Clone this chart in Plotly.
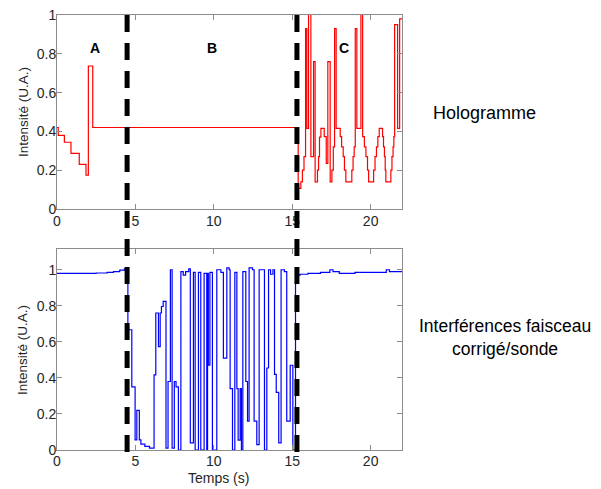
import plotly.graph_objects as go

# ---- data ----
holo_t = [0, 0.08, 0.47, 0.89, 1.42, 1.85, 2.0, 2.28, 15.38, 15.55, 15.65, 15.75,
          15.85, 15.93, 16.04, 16.19, 16.36, 16.46, 16.61, 16.68, 16.74, 16.83,
          17.04, 17.17, 17.27, 17.42, 17.53, 17.62, 17.7, 17.8, 18.06, 18.15,
          18.25, 18.33, 18.42, 18.8, 18.88, 18.95, 19.02, 19.12, 19.38, 19.49,
          19.6, 19.7, 19.8, 19.87, 20.19, 20.28, 20.37, 20.46, 20.55, 20.76,
          20.82, 20.88, 20.93, 20.97, 21.29, 21.36, 21.43, 21.48, 21.53, 21.72,
          21.85, 22.0]
holo_v = [0.42, 0.38, 0.344, 0.287, 0.23, 0.175, 0.737, 0.42, 0.106, 0.14, 0.2, 0.27,
          0.93, 0.416, 1.05, 0.27, 0.76, 0.14, 0.2, 0.27, 0.37, 0.416,
          0.373, 0.235, 0.76, 0.14, 0.2, 0.32, 0.93, 0.416, 0.373, 0.32,
          0.27, 0.2, 0.14, 0.2, 0.27, 0.32, 0.93, 0.416, 1.05, 0.373,
          0.32, 0.27, 0.2, 0.14, 0.2, 0.27, 0.32, 0.373, 0.416, 0.373,
          0.32, 0.27, 0.2, 0.14, 0.2, 0.27, 0.32, 0.373, 0.95, 0.416,
          0.98, 0.98]

interf_t = [0, 2.5, 3.2, 3.6, 4.0, 4.3, 4.52, 4.77, 4.98, 5.09, 5.25, 5.35, 5.6, 5.9,
            6.19, 6.3, 6.47, 6.58, 6.66, 6.77, 6.95, 7.08, 7.23, 7.34, 7.48, 7.59,
            7.74, 7.9, 8.05, 8.2, 8.4, 8.5, 8.7, 8.81, 9.02, 9.17, 9.38, 9.55, 9.6,
            9.65, 9.75, 9.91, 10.19, 10.45, 10.61, 10.83, 10.98, 11.04, 11.19, 11.34,
            11.47, 11.55, 11.68, 11.76, 11.85, 12.04, 12.15, 12.25, 12.47, 12.57,
            12.74, 12.89, 13.23, 13.38, 13.49, 13.62, 13.77, 13.87, 13.98, 14.14,
            14.29, 14.5, 14.65, 14.87, 15.04, 15.21, 15.35, 15.5, 16.0, 16.8, 17.4,
            17.6, 18.0, 19.0, 20.8, 21.0, 21.2, 22.0]
interf_v = [0.98, 0.982, 0.985, 0.99, 0.998, 1.005, 0.667, 0.35, 0.056, 0.22, 0.056, 0.033, 0.02, 0.01,
            0.417, 0.76, 0.574, 0.76, 0.796, 0.824, 0.01, 0.38, 1.0, 0.01, 0.38, 0.35,
            0.0, 0.99, 0.97, 0.99, 1.005, 0.04, 0.985, 0.0, 0.985, 0.0, 0.98, 0.0, 0.98,
            0.47, 0.985, 0.0, 1.0, 0.985, 0.51, 1.01, 1.0, 0.34, 0.0, 0.985,
            0.34, 0.055, 0.34, 0.0, 0.99, 0.38, 0.16, 1.01, 1.0, 0.16,
            0.03, 1.0, 0.0, 0.455, 1.0, 0.975, 1.0, 0.42, 0.32, 0.04,
            1.0, 0.99, 0.16, 0.47, 0.0, 0.954, 0.97, 0.975, 0.98, 0.985, 1.0,
            0.99, 0.98, 0.985, 0.985, 1.0, 0.99, 0.99]

x_ticks = [0, 5, 10, 15, 20]
y_ticks = [0, 0.2, 0.4, 0.6, 0.8, 1]
boundaries = [4.47, 15.3]
zone_labels = ["A", "B", "C"]
zone_x = [2.4, 9.9, 18.3]

# page body has an 8px margin; lay out in window pixels and convert
OFF = 8
W, H = 601 - OFF, 489 - OFF
FONT = "Liberation Sans, Arial, sans-serif"


def px(x):
    return (x - OFF) / W


def py(y):
    return (H - (y - OFF)) / H


fig = go.Figure()
fig.add_trace(go.Scatter(x=holo_t, y=holo_v, mode="lines", line=dict(color="#ff0000", width=1.2, shape="hv"),
                         xaxis="x", yaxis="y", showlegend=False, hoverinfo="skip"))
fig.add_trace(go.Scatter(x=interf_t, y=interf_v, mode="lines", line=dict(color="#0000ff", width=1.2, shape="hv"),
                         xaxis="x2", yaxis="y2", showlegend=False, hoverinfo="skip"))

xd = [px(57), px(402)]
top_dom = [py(209), py(15)]
bot_dom = [py(450), py(249)]

axis_common = dict(showline=True, linecolor="#8c8c8c", linewidth=1, mirror="ticks", automargin=False,
                   ticks="inside", ticklen=5, tickcolor="#8c8c8c", showgrid=False, zeroline=False,
                   ticklabeloverflow="allow",
                   tickfont=dict(family=FONT, size=14, color="#262626"))

fig.update_layout(
    template=None,
    width=W, height=H, margin=dict(l=0, r=0, t=0, b=0, autoexpand=False),
    paper_bgcolor="white", plot_bgcolor="white",
    xaxis=dict(domain=xd, anchor="y", range=[0, 22], tickvals=x_ticks, ticklabelstandoff=-1, **axis_common),
    yaxis=dict(domain=top_dom, anchor="x", range=[0, 1], tickvals=y_ticks, ticklabelstandoff=-3, **axis_common),
    xaxis2=dict(domain=xd, anchor="y2", range=[0, 22], tickvals=x_ticks, ticklabelstandoff=-2, **axis_common),
    yaxis2=dict(domain=bot_dom, anchor="x2", range=[0, 1.115], tickvals=y_ticks, ticklabelstandoff=-3, **axis_common),
)

for b in boundaries:
    fig.add_shape(type="line", xref="x", yref="paper", x0=b, x1=b,
                  y0=py(15), y1=py(455),
                  line=dict(color="black", width=5, dash="17px,11px"), layer="above")

for lab, zx in zip(zone_labels, zone_x):
    fig.add_annotation(x=zx, y=0.83, xref="x", yref="y", text="<b>%s</b>" % lab, showarrow=False,
                       xanchor="center", yanchor="middle",
                       font=dict(family=FONT, size=14, color="black"))

for ymid in [112, 350]:
    fig.add_annotation(x=px(23), y=py(ymid), xref="paper", yref="paper", text="Intensité (U.A.)",
                       textangle=-90, showarrow=False, xanchor="center", yanchor="middle",
                       font=dict(family=FONT, size=13.5, color="#262626"))

fig.add_annotation(x=px(218), y=py(478), xref="paper", yref="paper", text="Temps (s)",
                   showarrow=False, xanchor="center", yanchor="middle",
                   font=dict(family=FONT, size=14, color="#262626"))

fig.add_annotation(x=px(484), y=py(113), xref="paper", yref="paper", text="Hologramme",
                   showarrow=False, xanchor="center", yanchor="middle",
                   font=dict(family=FONT, size=18, color="black"))
fig.add_annotation(x=px(505), y=py(338), xref="paper", yref="paper",
                   text="Interférences faisceau<br>corrigé/sonde", align="center",
                   showarrow=False, xanchor="center", yanchor="middle",
                   font=dict(family=FONT, size=17.5, color="black"))

fig.write_html("out.html")
